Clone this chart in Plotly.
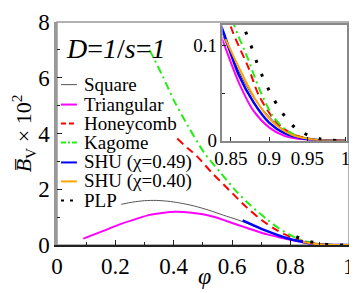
import plotly.graph_objects as go

# ---------------- data ----------------
series_names = ["Square", "Triangular", "Honeycomb", "Kagome",
                "SHU (\u03c7=0.49)", "SHU (\u03c7=0.40)", "PLP"]

phi_square = [0.22, 0.26, 0.30, 0.34, 0.38, 0.42, 0.47, 0.52, 0.57, 0.62, 0.67,
              0.72, 0.77, 0.80, 0.84, 0.88, 0.92, 0.96, 1.00]
b_square = [1.46, 1.54, 1.59, 1.60, 1.57, 1.51, 1.40, 1.25, 1.07, 0.90, 0.70,
            0.50, 0.31, 0.21, 0.11, 0.045, 0.011, 0.001, 0.0]

phi_tri = [0.09, 0.15, 0.215, 0.27, 0.317, 0.36, 0.408, 0.454, 0.50, 0.533, 0.57,
           0.60, 0.64, 0.68, 0.72, 0.76, 0.80, 0.84, 0.86, 0.88, 0.90, 0.92, 0.95, 1.0]
b_tri = [0.23, 0.47, 0.74, 0.93, 1.08, 1.15, 1.19, 1.17, 1.10, 1.02, 0.90,
         0.79, 0.65, 0.51, 0.38, 0.28, 0.19, 0.104, 0.062, 0.031, 0.014, 0.005, 0.0008, 0.0]

phi_honey = [0.412, 0.45, 0.478, 0.53, 0.59, 0.65, 0.703, 0.75, 0.795, 0.825, 0.85,
             0.873, 0.887, 0.909, 0.93, 0.96, 1.0]
b_honey = [3.82, 3.45, 3.20, 2.60, 1.97, 1.35, 0.88, 0.55, 0.31, 0.20, 0.12,
           0.077, 0.047, 0.02, 0.007, 0.001, 0.0]

phi_kagome = [0.317, 0.36, 0.40, 0.45, 0.505, 0.56, 0.61, 0.66, 0.716, 0.76, 0.805,
              0.83, 0.853, 0.873, 0.887, 0.904, 0.921, 0.94, 0.96, 1.0]
b_kagome = [7.0, 6.1, 5.2, 4.25, 3.3, 2.6, 1.98, 1.45, 0.95, 0.60, 0.33,
            0.20, 0.125, 0.085, 0.055, 0.027, 0.012, 0.004, 0.001, 0.0]

phi_shu49 = [0.636, 0.67, 0.70, 0.74, 0.78, 0.81, 0.84, 0.86, 0.88, 0.90, 0.92, 0.95, 1.0]
b_shu49 = [0.88, 0.72, 0.58, 0.42, 0.27, 0.18, 0.115, 0.070, 0.040, 0.019, 0.008, 0.0015, 0.0]

phi_shu40 = [0.843, 0.86, 0.881, 0.904, 0.93, 0.96, 1.0]
b_shu40 = [0.107, 0.078, 0.045, 0.020, 0.006, 0.001, 0.0]

phi_plp = [0.82, 0.835, 0.85, 0.868, 0.876, 0.887, 0.90, 0.911, 0.924, 0.935,
           0.953, 0.966, 0.98, 1.0]
b_plp = [0.30, 0.23, 0.17, 0.118, 0.101, 0.076, 0.053, 0.037, 0.022, 0.013,
         0.005, 0.002, 0.0005, 0.0]

x_ticks_main = [0, 0.2, 0.4, 0.6, 0.8, 1]
x_ticktext_main = ["0", "0.2", "0.4", "0.6", "0.8", "1"]
y_ticks_main = [0, 2, 4, 6, 8]
y_ticktext_main = ["0", "2", "4", "6", "8"]
x_ticks_inset = [0.85, 0.9, 0.95, 1.0]
x_ticktext_inset = ["0.85", "0.9", "0.95", "1"]
y_ticks_inset = [0, 0.1]
y_ticktext_inset = ["0", "0.1"]

# ---------------- styles ----------------
SERIF = "Liberation Serif, Times New Roman, serif"
styles = [
    dict(color="#555555", width=1, dash="solid"),
    dict(color="#ff00ff", width=2, dash="solid"),
    dict(color="#ff0000", width=2, dash="8px,5px"),
    dict(color="#22ee11", width=2, dash="8px,4px,2px,4px"),
    dict(color="#0000ff", width=2.5, dash="solid"),
    dict(color="#ffa500", width=2, dash="solid"),
    dict(color="#000000", width=3, dash="3px,12px"),
]
leg_dash = ["solid", "solid", "5px,3px", "5px,2px,2px,2px", "solid", "solid", "3px,6px"]
data = [(phi_square, b_square), (phi_tri, b_tri), (phi_honey, b_honey),
        (phi_kagome, b_kagome), (phi_shu49, b_shu49), (phi_shu40, b_shu40),
        (phi_plp, b_plp)]

fig = go.Figure()
for name, (xs, ys), st in zip(series_names, data, styles):
    for xa, ya in (("x", "y"), ("x2", "y2")):
        fig.add_trace(go.Scatter(
            x=xs, y=ys, mode="lines", name=name, xaxis=xa, yaxis=ya,
            line=dict(color=st["color"], width=st["width"], dash=st["dash"],
                      shape="spline", smoothing=0.8),
            showlegend=False, hoverinfo="skip"))

# screen geometry: window 357x293, page body margin 8px
W, H, OFF = 357, 293, 8
L, R, T, B = 57, 350, 10, 245      # plot area in screen pixels
def px(x):
    return (x - L) / (R - L)
def py(y):
    return (B - y) / (B - T)

# manual legend
shapes = [dict(type="rect", xref="paper", yref="paper", x0=0, y0=0, x1=1, y1=1,
               line=dict(color="#999999", width=1.5), layer="below")]
annotations = []
leg_y = [76, 97, 117, 137, 158, 178, 198]
for name, st, yy, dsh in zip(series_names, styles, leg_y, leg_dash):
    shapes.append(dict(type="line", xref="paper", yref="paper",
                       x0=px(61), x1=px(77), y0=py(yy), y1=py(yy),
                       line=dict(color=st["color"], width=min(st["width"], 2), dash=dsh)))
    annotations.append(dict(text=name, xref="paper", yref="paper", x=px(82), y=py(yy),
                            xanchor="left", yanchor="middle", showarrow=False,
                            font=dict(family=SERIF, size=19, color="black")))

annotations.append(dict(text="<i>D</i>=<i>1</i>/<i>s</i>=<i>1</i>", xref="paper", yref="paper",
                        x=px(64), y=py(38), xanchor="left", yanchor="middle",
                        showarrow=False, font=dict(family=SERIF, size=28, color="black")))
annotations.append(dict(text="<i>\u03c6</i>", xref="paper", yref="paper",
                        x=px(205), y=py(278), xanchor="center", yanchor="middle",
                        showarrow=False, font=dict(family=SERIF, size=24, color="black")))

fig.update_layout(
    width=W - OFF, height=H - OFF,
    margin=dict(l=L - OFF, r=W - R, t=T - OFF, b=H - B, pad=0),
    paper_bgcolor="white", plot_bgcolor="white",
    showlegend=False,
    font=dict(family=SERIF, color="black"),
    shapes=shapes, annotations=annotations,
    xaxis=dict(domain=[0, 1], range=[0, 1.0005], tickvals=x_ticks_main, ticktext=x_ticktext_main,
               ticks="inside", ticklen=5, tickcolor="#222", showline=True,
               linecolor="#222", linewidth=1.5, showgrid=False, zeroline=False,
               tickfont=dict(family=SERIF, size=23), ticklabeloverflow="allow",
               minor=dict(dtick=0.1, ticks="inside", ticklen=3, tickcolor="#222")),
    yaxis=dict(domain=[0, 1], range=[0, 8.002], tickvals=y_ticks_main, ticktext=y_ticktext_main,
               ticks="inside", ticklen=5, tickcolor="#222", showline=True,
               linecolor="#999999", linewidth=2.5, showgrid=False, zeroline=False,
               tickfont=dict(family=SERIF, size=23), ticklabeloverflow="allow",
               minor=dict(dtick=1, ticks="inside", ticklen=3, tickcolor="#222"),
               title=dict(text="<i>B\u0305</i><sub>V</sub> \u00d7 10<sup>2</sup>",
                          font=dict(family=SERIF, size=22), standoff=4)),
    xaxis2=dict(domain=[px(223), px(348)], anchor="y2", range=[0.839, 1.002],
                tickvals=x_ticks_inset, ticktext=x_ticktext_inset,
                ticks="inside", ticklen=4, tickcolor="#222", showline=True, mirror=True,
                linecolor="#888888", linewidth=1.5, showgrid=False, zeroline=False,
                tickfont=dict(family=SERIF, size=19), ticklabeloverflow="allow"),
    yaxis2=dict(domain=[py(135), py(13)], anchor="x2", range=[0, 0.122],
                tickvals=y_ticks_inset, ticktext=y_ticktext_inset,
                ticks="inside", ticklen=4, tickcolor="#222", showline=True, mirror=True,
                linecolor="#888888", linewidth=1.5, showgrid=False, zeroline=False,
                tickfont=dict(family=SERIF, size=19), ticklabeloverflow="allow",
                minor=dict(dtick=0.05, ticks="inside", ticklen=3, tickcolor="#222")),
)

fig.write_html("out.html")
